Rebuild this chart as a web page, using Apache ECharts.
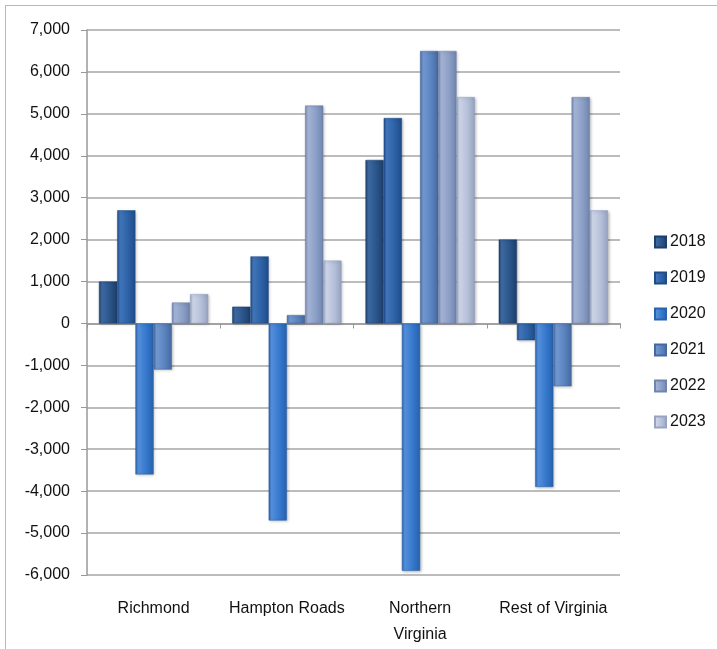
<!DOCTYPE html>
<html>
<head>
<meta charset="utf-8">
<script src="https://cdn.jsdelivr.net/npm/echarts@6/dist/echarts.min.js"></script>
<style>
  body { margin: 0; background: #fff; }
  #frame { position: absolute; left: 5px; top: 5px; width: 720px; height: 660px; border: 1px solid #b8b8b8; }
  #main { position: absolute; left: 0; top: 0; width: 717px; height: 649px; }
</style>
</head>
<body>
<div id="frame"></div>
<div id="main"></div>
<script>
var regions = ['Richmond', 'Hampton Roads', 'Northern\nVirginia', 'Rest of Virginia'];
var years = ['2018', '2019', '2020', '2021', '2022', '2023'];
var v2018 = [1000, 400, 3900, 2000];
var v2019 = [2700, 1600, 4900, -400];
var v2020 = [-3600, -4700, -5900, -3900];
var v2021 = [-1100, 200, 6500, -1500];
var v2022 = [500, 5200, 6500, 5400];
var v2023 = [700, 1500, 5400, 2700];
var yearData = [v2018, v2019, v2020, v2021, v2022, v2023];

// base colour, light edge, dark edge
var colors = [
  ['#2b5589', '#3d6aa3', '#1d3f6b'],
  ['#2d62a6', '#4275bb', '#1f4c86'],
  ['#3578cc', '#5590dc', '#2862ad'],
  ['#5b84c0', '#7399d0', '#46699f'],
  ['#8c9fc6', '#a4b4d6', '#7085ad'],
  ['#b5c0d9', '#cdd5e7', '#97a3c0']
];

function grad(c) {
  return new echarts.graphic.LinearGradient(0, 0, 1, 0, [
    { offset: 0, color: c[2] },
    { offset: 0.15, color: c[1] },
    { offset: 0.6, color: c[0] },
    { offset: 1, color: c[2] }
  ]);
}

var series = years.map(function (y, i) {
  return {
    name: y,
    type: 'bar',
    xAxisIndex: 0,
    barGap: '0%',
    barCategoryGap: '18%',
    data: yearData[i],
    itemStyle: {
      color: grad(colors[i]),
      borderColor: colors[i][2],
      borderWidth: 0.5,
      shadowColor: 'rgba(0,0,0,0.3)',
      shadowBlur: 3,
      shadowOffsetX: 1,
      shadowOffsetY: 1
    }
  };
});

var myChart = echarts.init(document.getElementById('main'));
myChart.setOption({
  animation: false,
  textStyle: { fontFamily: 'Liberation Sans' },
  grid: { left: 87, right: 97, top: 30, bottom: 74 },
  legend: {
    orient: 'vertical',
    left: 649,
    top: 229,
    itemWidth: 11,
    itemHeight: 11,
    itemGap: 20,
    textStyle: { fontSize: 16, color: '#111', padding: [0, 0, 0, -1] },
    data: years.map(function (y, i) {
      return { name: y, icon: 'rect', itemStyle: { color: grad(colors[i]) } };
    })
  },
  xAxis: [
    {
      type: 'category',
      data: regions,
      position: 'bottom',
      axisLine: { show: false, onZero: false },
      axisTick: { show: false },
      axisLabel: { fontSize: 16, color: '#111', margin: 21, lineHeight: 26, interval: 0 }
    },
    {
      type: 'category',
      data: regions,
      position: 'bottom',
      axisLine: { show: true, onZero: true, lineStyle: { color: '#999', width: 1.5 } },
      axisTick: { show: true, length: 5, lineStyle: { color: '#999' } },
      axisLabel: { show: false }
    }
  ],
  yAxis: {
    type: 'value',
    min: -6000,
    max: 7000,
    interval: 1000,
    axisLine: { show: true, lineStyle: { color: '#999', width: 1.5 } },
    axisTick: { show: true, length: 6, lineStyle: { color: '#999' } },
    axisLabel: {
      fontSize: 16,
      color: '#111',
      margin: 17,
      formatter: function (v) { return v.toLocaleString('en-US'); }
    },
    splitLine: { show: true, lineStyle: { color: '#a6a6a6', width: 1.5 } }
  },
  series: series
});
</script>
</body>
</html>
